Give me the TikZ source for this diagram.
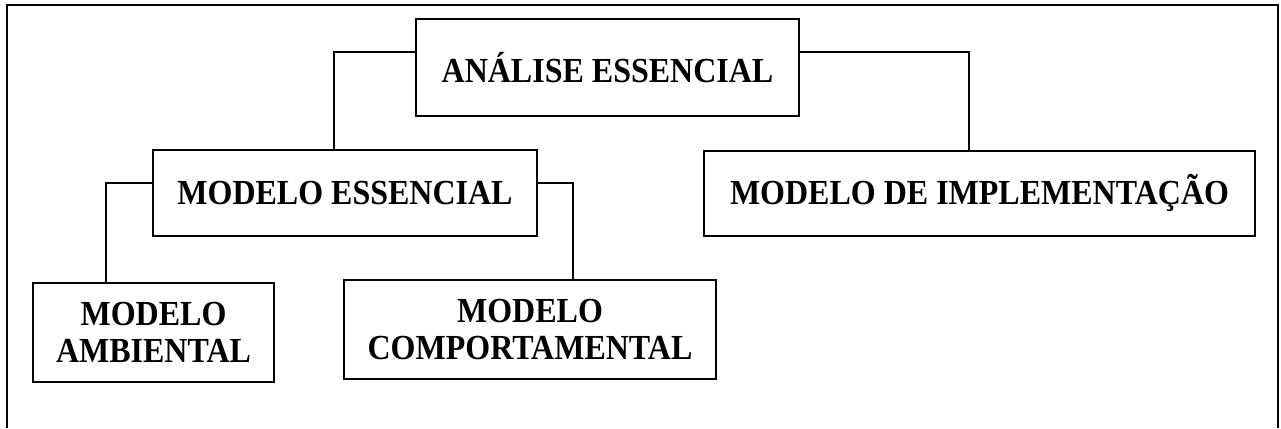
\documentclass[tikz,border=0pt]{standalone}
\usepackage{fontspec}
\setmainfont{Liberation Serif}
% slightly tall lettering for the box labels
\newcommand{\tallword}[1]{\scalebox{1}[1.1]{#1}}
\begin{document}
\begin{tikzpicture}[x=1pt,y=-1pt,
  modelbox/.style={draw=black, line width=1.8pt, rectangle, inner sep=0pt,
    align=center, font=\bfseries\fontsize{32}{37}\selectfont},
  link/.style={draw=black, line width=1.5pt}]
  \useasboundingbox (0,0) rectangle (1281,428);
  % open frame (cut at the bottom)
  \coordinate (fbl) at (7,428);
  \coordinate (ftl) at (7,5);
  \coordinate (ftr) at (1278,5);
  \coordinate (fbr) at (1278,428);
  \draw[line width=2.5pt] (fbl) -- (ftl) -- (ftr) -- (fbr);

  \node[modelbox, minimum width=383pt, minimum height=97pt] (ana) at (607.5,67.5) {\tallword{ANÁLISE ESSENCIAL}};
  \node[modelbox, minimum width=384pt, minimum height=86pt] (me) at (345,193) {\tallword{MODELO ESSENCIAL}};
  \node[modelbox, minimum width=551pt, minimum height=85pt] (impl) at (979.5,193.5) {\tallword{MODELO DE IMPLEMENTAÇÃO}};
  \node[modelbox, minimum width=241pt, minimum height=99pt] (amb) at (153.5,332.5) {\tallword{MODELO}\\\tallword{AMBIENTAL}};
  \node[modelbox, minimum width=372pt, minimum height=99pt] (comp) at (530,329.5) {\tallword{MODELO}\\\tallword{COMPORTAMENTAL}};

  \draw[link] ([yshift=15.5pt]ana.west) -| ([xshift=-11pt]me.north);
  \draw[link] ([yshift=15.5pt]ana.east) -| ([xshift=-10.5pt]impl.north);
  \draw[link] ([yshift=10pt]me.west) -| ([xshift=-47.5pt]amb.north);
  \draw[link] ([yshift=10pt]me.east) -| ([xshift=43pt]comp.north);
\end{tikzpicture}
\end{document}
